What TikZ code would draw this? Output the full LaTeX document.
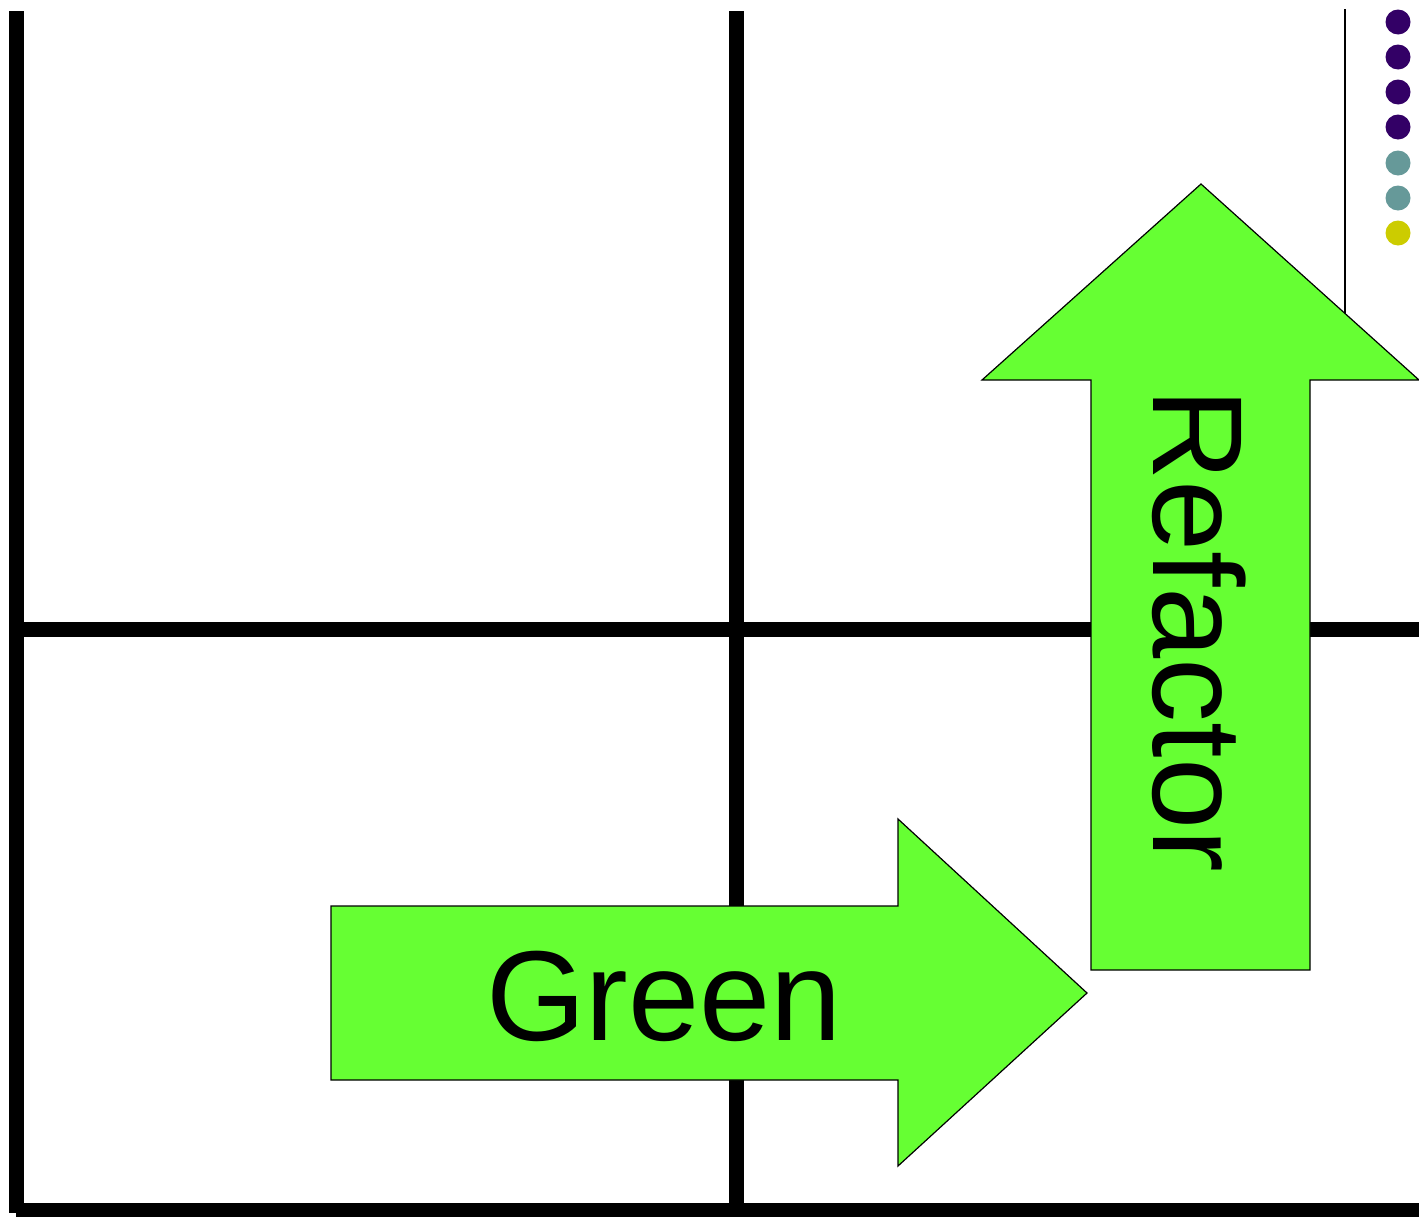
\documentclass[tikz,border=0pt]{standalone}
\usepackage{fontspec}
\setmainfont{Liberation Sans}
\definecolor{arrowgreen}{HTML}{66FF33}
\definecolor{dotpurple}{HTML}{330066}
\definecolor{dotteal}{HTML}{669999}
\definecolor{dotyellow}{HTML}{CCCC00}
\tikzset{
  gridline/.style={line width=7.5pt},
  bigarrow/.style={fill=arrowgreen, draw=black, line width=0.6pt},
  bigtext/.style={font=\fontsize{64}{72}\selectfont}
}
\begin{document}
\begin{tikzpicture}[x=0.5pt, y=-0.5pt]
\useasboundingbox (0,0) rectangle (1419,1216);
\draw[gridline] (16.5,11) -- (16.5,1213);
\draw[gridline] (16,1210) -- (1419,1210);
\draw[gridline] (736.5,11) -- (736.5,1216);
\draw[gridline] (20,629) -- (1419,629);
\draw[line width=1pt] (1345,9) -- (1345,320);
\fill[dotpurple] (1398,22) circle (12.5);
\fill[dotpurple] (1398,57) circle (12.5);
\fill[dotpurple] (1398,92) circle (12.5);
\fill[dotpurple] (1398,127) circle (12.5);
\fill[dotteal] (1398,163) circle (12.5);
\fill[dotteal] (1398,198) circle (12.5);
\fill[dotyellow] (1398,233) circle (12.5);
\filldraw[bigarrow] (331,906) -- (898,906) -- (898,819) -- (1087,993)
    -- (898,1166) -- (898,1080) -- (331,1080) -- cycle;
\filldraw[bigarrow] (1091,970) -- (1091,380) -- (982,380) -- (1201,184)
    -- (1419,380) -- (1310,380) -- (1310,970) -- cycle;
\node[bigtext] (green) at (664,996) {Green};
\node[bigtext, rotate=-90] (refactor) at (1199,630) {Refactor};
\end{tikzpicture}
\end{document}
